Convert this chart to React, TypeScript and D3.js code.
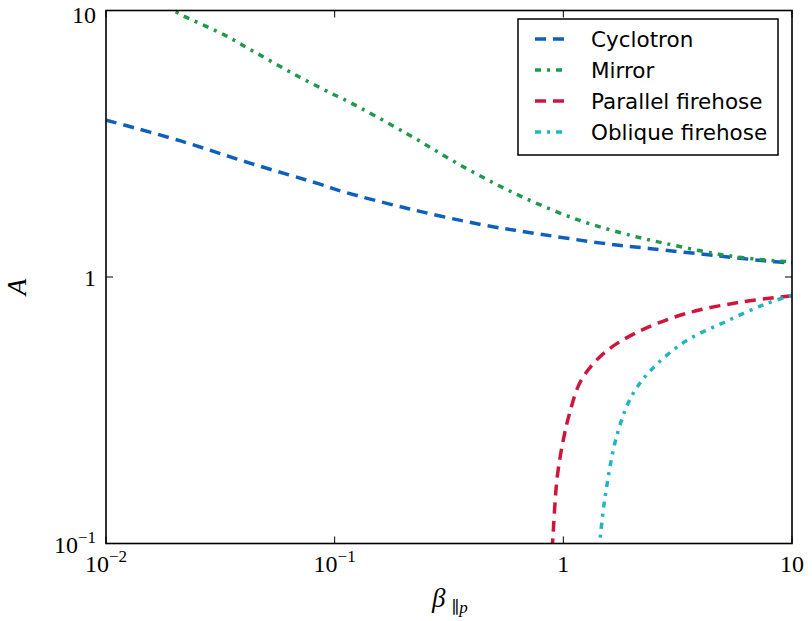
import React from "react";
import * as d3 from "d3";

// ---- data ----
const cyclotronBeta = [0.01, 0.0212, 0.0429, 0.0863, 0.111, 0.213, 0.443, 0.783, 1.47, 2.36, 4.77, 8.43, 10];
const cyclotronA = [3.88, 3.24, 2.67, 2.23, 2.08, 1.8, 1.57, 1.45, 1.34, 1.28, 1.2, 1.14, 1.13];

const mirrorBeta = [0.0185, 0.0198, 0.0329, 0.0445, 0.0657, 0.0962, 0.115, 0.207, 0.363, 0.643, 1.18, 1.99, 2.75, 5.0, 8.43, 10];
const mirrorA = [10.6, 10, 8.1, 7.0, 5.8, 4.9, 4.55, 3.45, 2.6, 2.02, 1.63, 1.43, 1.34, 1.21, 1.15, 1.14];

const parallelBeta = [0.893, 0.9, 0.94, 1.0, 1.063, 1.194, 1.49, 2.06, 3.41, 5.98, 10];
const parallelA = [0.095, 0.105, 0.177, 0.245, 0.306, 0.408, 0.514, 0.615, 0.728, 0.805, 0.85];

const obliqueBeta = [1.435, 1.442, 1.52, 1.72, 2.01, 2.46, 3.4, 5.09, 7.6, 10];
const obliqueA = [0.095, 0.1, 0.148, 0.257, 0.363, 0.454, 0.572, 0.678, 0.79, 0.855];

const seriesNames = ["Cyclotron", "Mirror", "Parallel firehose", "Oblique firehose"];
const seriesColors = ["#0f5fbd", "#1f9a4c", "#d1143c", "#1fb6c1"];
const seriesDashes = ["11,7", "6,6,3,6", "11,7", "6,6,3,6"];

const xTicks = [0.01, 0.1, 1, 10];
const xTickBase = ["10", "10", "1", "10"];
const xTickExp = ["−2", "−1", "", ""];
const yTicks = [0.1, 1, 10];
const yTickBase = ["10", "1", "10"];
const yTickExp = ["−1", "", ""];

const W = 812;
const H = 621;
const M = { left: 106, right: 792, top: 10.5, bottom: 543.5 };

export default function App() {
  const x = d3.scaleLog().domain([0.01, 10]).range([M.left, M.right]);
  const y = d3.scaleLog().domain([0.1, 10]).range([M.bottom, M.top]);

  const series = [
    cyclotronBeta.map((b, i) => [b, cyclotronA[i]]),
    mirrorBeta.map((b, i) => [b, mirrorA[i]]),
    parallelBeta.map((b, i) => [b, parallelA[i]]),
    obliqueBeta.map((b, i) => [b, obliqueA[i]]),
  ];

  const line = d3
    .line<number[]>()
    .x((d) => x(d[0]))
    .y((d) => y(d[1]))
    .curve(d3.curveCatmullRom.alpha(0.5));

  const serif = "'Liberation Serif', 'DejaVu Serif', serif";
  const sans = "'DejaVu Sans', sans-serif";
  const tickLen = 7;

  const legendX = 518;
  const legendY = 19;
  const legendW = 260;
  const legendH = 136;
  const rowY = [39, 70, 101, 132];

  return (
    <svg
      width={W}
      height={H}
      style={{ position: "absolute", left: 0, top: 0, background: "#fff" }}
    >
      <defs>
        <clipPath id="plotClip">
          <rect x={M.left} y={M.top} width={M.right - M.left} height={M.bottom - M.top} />
        </clipPath>
      </defs>
      <rect x={0} y={0} width={W} height={H} fill="#fff" />

      {/* curves */}
      <g clipPath="url(#plotClip)">
        {series.map((s, i) => (
          <path
            key={i}
            d={line(s) || ""}
            fill="none"
            stroke={seriesColors[i]}
            strokeWidth={3.5}
            strokeDasharray={seriesDashes[i]}
          />
        ))}
      </g>

      {/* ticks on all four sides */}
      <g stroke="#000" strokeWidth={1}>
        {xTicks.map((t, i) => (
          <g key={"xt" + i}>
            <line x1={x(t)} x2={x(t)} y1={M.bottom} y2={M.bottom - tickLen} />
            <line x1={x(t)} x2={x(t)} y1={M.top} y2={M.top + tickLen} />
          </g>
        ))}
        {yTicks.map((t, i) => (
          <g key={"yt" + i}>
            <line x1={M.left} x2={M.left + tickLen} y1={y(t)} y2={y(t)} />
            <line x1={M.right} x2={M.right - tickLen} y1={y(t)} y2={y(t)} />
          </g>
        ))}
      </g>

      {/* frame */}
      <rect
        x={M.left}
        y={M.top}
        width={M.right - M.left}
        height={M.bottom - M.top}
        fill="none"
        stroke="#000"
        strokeWidth={1.6}
      />

      {/* x tick labels */}
      {xTicks.map((t, i) => (
        <text
          key={"xl" + i}
          x={x(t)}
          y={M.bottom + 28}
          textAnchor="middle"
          fontFamily={serif}
          fontSize={24}
          fill="#000"
        >
          {xTickBase[i]}
          {xTickExp[i] ? (
            <tspan fontSize={17} dy={-10}>
              {xTickExp[i]}
            </tspan>
          ) : null}
        </text>
      ))}

      {/* y tick labels */}
      {yTicks.map((t, i) => (
        <text
          key={"yl" + i}
          x={M.left - 10}
          y={Math.max(y(t) + 9, 23)}
          textAnchor="end"
          fontFamily={serif}
          fontSize={24}
          fill="#000"
        >
          {yTickBase[i]}
          {yTickExp[i] ? (
            <tspan fontSize={17} dy={-10}>
              {yTickExp[i]}
            </tspan>
          ) : null}
        </text>
      ))}

      {/* axis labels */}
      <text
        transform={`translate(26, ${(M.top + M.bottom) / 2 + 10}) rotate(-90)`}
        textAnchor="middle"
        fontFamily={serif}
        fontStyle="italic"
        fontSize={27}
        fill="#000"
      >
        A
      </text>
      <text x={432} y={607} fontFamily={serif} fontSize={27} fill="#000">
        <tspan fontStyle="italic">β</tspan>
        <tspan fontSize={17} dy={6} dx={6}>
          ∥
        </tspan>
        <tspan fontSize={17} fontStyle="italic">
          p
        </tspan>
      </text>

      {/* legend */}
      <rect
        x={legendX}
        y={legendY}
        width={legendW}
        height={legendH}
        fill="#fff"
        stroke="#000"
        strokeWidth={1.5}
      />
      {seriesNames.map((name, i) => (
        <g key={"lg" + i}>
          <line
            x1={535}
            x2={564}
            y1={rowY[i]}
            y2={rowY[i]}
            stroke={seriesColors[i]}
            strokeWidth={3.5}
            strokeDasharray={seriesDashes[i]}
          />
          <text
            x={591}
            y={rowY[i] + 7.5}
            fontFamily={sans}
            fontSize={21.5}
            fill="#000"
          >
            {name}
          </text>
        </g>
      ))}
    </svg>
  );
}
